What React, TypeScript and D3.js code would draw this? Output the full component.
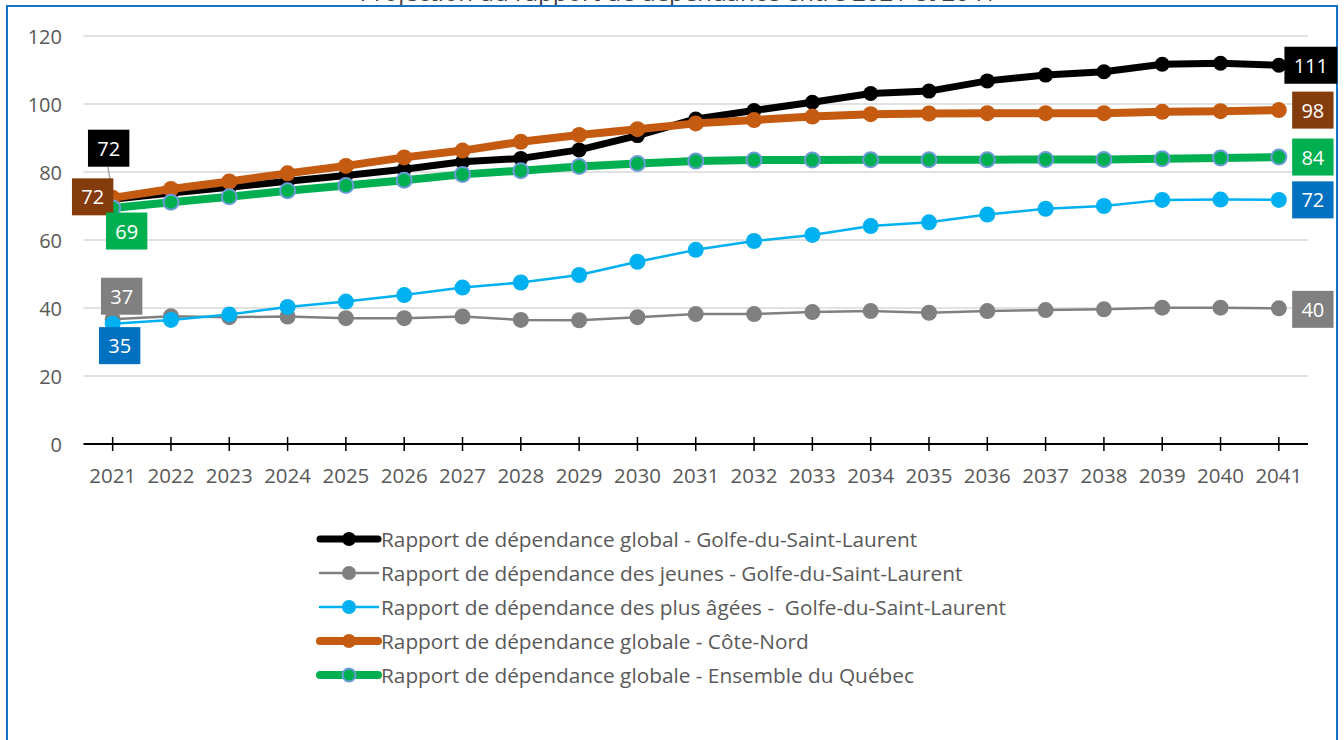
import React from "react";
import * as d3 from "d3";

const years = ["2021","2022","2023","2024","2025","2026","2027","2028","2029","2030","2031","2032","2033","2034","2035","2036","2037","2038","2039","2040","2041"];

const globalGolfe = [72.0, 73.8, 75.5, 77.3, 79.0, 80.8, 83.0, 84.0, 86.5, 90.7, 95.6, 98.1, 100.5, 103.1, 103.8, 106.8, 108.5, 109.5, 111.7, 112.0, 111.4];
const jeunesGolfe = [36.7, 37.6, 37.3, 37.5, 37.0, 37.0, 37.5, 36.5, 36.4, 37.3, 38.2, 38.2, 38.8, 39.1, 38.6, 39.1, 39.4, 39.6, 40.1, 40.1, 39.9];
const agesGolfe = [35.4, 36.5, 38.1, 40.3, 41.9, 43.8, 46.0, 47.5, 49.7, 53.6, 57.1, 59.7, 61.5, 64.1, 65.2, 67.5, 69.2, 70.0, 71.8, 71.9, 71.8];
const globaleCoteNord = [72.4, 75.0, 77.2, 79.6, 81.8, 84.3, 86.3, 88.9, 90.9, 92.6, 94.3, 95.3, 96.3, 97.0, 97.2, 97.3, 97.3, 97.3, 97.7, 97.9, 98.2];
const globaleQuebec = [69.4, 71.1, 72.7, 74.5, 76.0, 77.6, 79.3, 80.4, 81.6, 82.5, 83.2, 83.5, 83.5, 83.6, 83.6, 83.6, 83.7, 83.7, 83.9, 84.1, 84.4];

const seriesNames = [
  "Rapport de dépendance global - Golfe-du-Saint-Laurent",
  "Rapport de dépendance des jeunes - Golfe-du-Saint-Laurent",
  "Rapport de dépendance des plus âgées -  Golfe-du-Saint-Laurent",
  "Rapport de dépendance globale - Côte-Nord",
  "Rapport de dépendance globale - Ensemble du Québec",
];
const seriesValues = [globalGolfe, jeunesGolfe, agesGolfe, globaleCoteNord, globaleQuebec];
const yTicks = [0, 20, 40, 60, 80, 100, 120];
const title = "Projection du rapport de dépendance entre 2021 et 2041";

// styles (not data)
const styles = [
  { color: "#000000", width: 7, r: 7.5, stroke: "#000000", sw: 0, box: "#000000", left: [-4, -51], right: [32, 0] },
  { color: "#808080", width: 2.5, r: 8, stroke: "#808080", sw: 0, box: "#808080", left: [9, -23], right: [34, 1] },
  { color: "#00b0f0", width: 2.5, r: 8, stroke: "#00b0f0", sw: 0, box: "#0070c0", left: [7, 22], right: [34, 0] },
  { color: "#c55a11", width: 8, r: 8, stroke: "#c55a11", sw: 0, box: "#843c0c", left: [-20, -1], right: [34, 0] },
  { color: "#00b050", width: 8, r: 7.5, stroke: "#6c9bd8", sw: 2, box: "#00b050", left: [14, 23], right: [34, 0] },
];

const FONT = "'Open Sans', sans-serif";

export default function App() {
  const W = 1344, H = 740;
  const x = d3.scalePoint<string>().domain(years).range([83.5, 1308]).padding(0.5);
  const y = d3.scaleLinear().domain([0, 120]).range([444, 36]);
  const line = d3.line<number>().x((_, i) => x(years[i]) as number).y((d) => y(d));

  const labelBox = (cx: number, cy: number, val: number, fill: string, key: string) => {
    const txt = String(Math.round(val));
    const w = txt.length * 11.44 + 18.5;
    const h = 37;
    return (
      <g key={key}>
        <rect x={cx - w / 2} y={cy - h / 2} width={w} height={h} fill={fill} />
        <text x={cx} y={cy} fill="#ffffff" fontSize={20} fontFamily={FONT} textAnchor="middle" dominantBaseline="central">{txt}</text>
      </g>
    );
  };

  const first = years[0], last = years[years.length - 1];
  const legendY0 = 539, legendStep = 34;

  return (
    <svg width={W} height={H} style={{ position: "absolute", left: 0, top: 0, background: "#fff" }}>
      <rect x={0} y={0} width={W} height={H} fill="#ffffff" />
      <text x={678} y={0.5} fontSize={24} fontFamily={FONT} fill="#404040" textAnchor="middle">{title}</text>
      <rect x={7} y={6} width={1330} height={760} fill="none" stroke="#1573c7" strokeWidth={2} />
      {/* gridlines */}
      {yTicks.filter((t) => t > 0).map((t) => (
        <line key={t} x1={83.5} x2={1308} y1={y(t)} y2={y(t)} stroke="#d9d9d9" strokeWidth={1.5} />
      ))}
      {yTicks.map((t) => (
        <text key={"yl" + t} x={62} y={y(t)} fontSize={20} fontFamily={FONT} fill="#595959" textAnchor="end" dominantBaseline="central">{t}</text>
      ))}
      {/* x axis */}
      <line x1={83.5} x2={1308} y1={y(0)} y2={y(0)} stroke="#000" strokeWidth={2} />
      {years.map((yr) => (
        <g key={yr}>
          <line x1={x(yr)} x2={x(yr)} y1={y(0) - 7} y2={y(0) + 7} stroke="#000" strokeWidth={1.5} />
          <text x={x(yr)} y={y(0) + 31} fontSize={20.5} fontFamily={FONT} fill="#595959" textAnchor="middle" dominantBaseline="central">{yr}</text>
        </g>
      ))}
      {/* series */}
      {seriesValues.map((vals, si) => {
        const s = styles[si];
        return (
          <g key={"s" + si}>
            <path d={line(vals) || ""} fill="none" stroke={s.color} strokeWidth={s.width} strokeLinejoin="round" />
            {vals.map((v, i) => (
              <circle key={i} cx={x(years[i])} cy={y(v)} r={s.r} fill={s.color} stroke={s.stroke} strokeWidth={s.sw} />
            ))}
          </g>
        );
      })}
      {/* leader line for black left label */}
      <line x1={108} y1={167} x2={x(first) as number} y2={y(globalGolfe[0]) - 3} stroke="#a6a6a6" strokeWidth={1.5} />
      {/* data labels */}
      {seriesValues.map((vals, si) => {
        const s = styles[si];
        const v0 = vals[0], v1 = vals[vals.length - 1];
        return (
          <g key={"lab" + si}>
            {labelBox((x(first) as number) + s.left[0], y(v0) + s.left[1], v0, s.box, "l" + si)}
            {labelBox((x(last) as number) + s.right[0], y(v1) + s.right[1], v1, s.box, "r" + si)}
          </g>
        );
      })}
      {/* legend */}
      {seriesNames.map((name, si) => {
        const s = styles[si];
        const ly = legendY0 + si * legendStep;
        return (
          <g key={"lg" + si}>
            <line x1={320} x2={378} y1={ly} y2={ly} stroke={s.color} strokeWidth={s.width} strokeLinecap="round" />
            <circle cx={349} cy={ly} r={si === 4 ? 6.5 : 7} fill={s.color} stroke={s.stroke} strokeWidth={s.sw} />
            <text x={381} y={ly} fontSize={20.8} fontFamily={FONT} fill="#595959" dominantBaseline="central" style={{ whiteSpace: "pre" }}>{name}</text>
          </g>
        );
      })}
    </svg>
  );
}
